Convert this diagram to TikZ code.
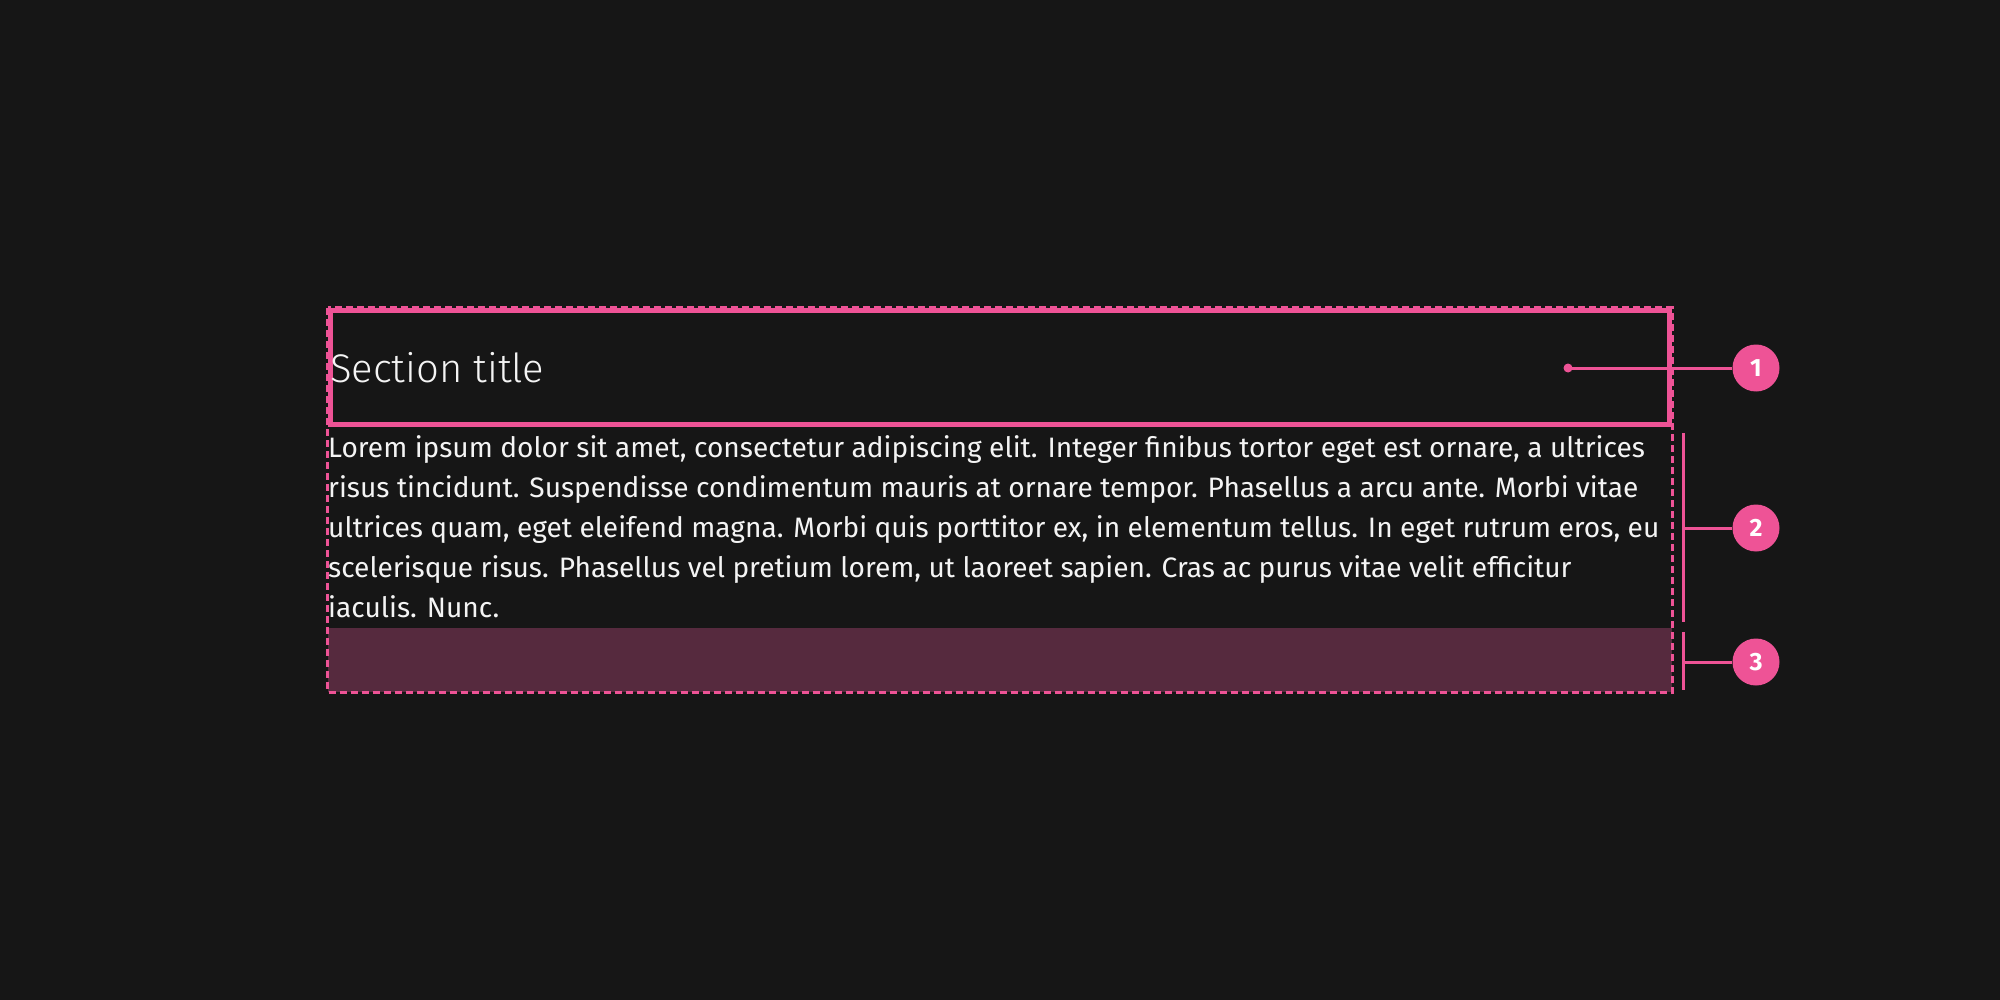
\documentclass[tikz,border=0pt]{standalone}
\usepackage{fontspec}
\setmainfont{Fira Sans}
\newfontfamily\titlefont{Fira Sans Light}
\definecolor{bgc}{HTML}{161616}
\definecolor{pinkc}{HTML}{EE5396}
\definecolor{purpc}{HTML}{562A3E}
\definecolor{textc}{HTML}{F4F4F4}
\tikzset{
  callout/.style={circle, fill=pinkc, text=white, minimum size=47pt, inner sep=0pt, font=\fontsize{25}{25}\selectfont\bfseries},
  leader/.style={draw=pinkc, line width=3pt},
  bodytext/.style={anchor=base west, inner sep=0pt, text=textc, font=\fontsize{28.1}{40}\selectfont},
}
\begin{document}
\begin{tikzpicture}[x=1pt,y=-1pt]
\fill[bgc] (0,0) rectangle (2000,1000);
\useasboundingbox (0,0) rectangle (2000,1000);
% spacer area
\fill[purpc] (328,628) rectangle (1672,692);
% title box
\draw[pinkc, line width=5.5pt] (330.5,310.5) rectangle (1669.5,424.5);
% outer dashed box
\draw[pinkc, line width=3pt, dash pattern=on 7pt off 4pt] (327.5,308) rectangle (1672,692);
% title
\node[anchor=base west, inner sep=0pt, text=textc, font=\titlefont\fontsize{40}{40}\selectfont] (title) at (330,382) {Section title};
% body
\node[bodytext] (body1) at (328,457) {Lorem ipsum dolor sit amet, consectetur adipiscing elit. Integer finibus tortor eget est ornare, a ultrices};
\node[bodytext] (body2) at (328,497) {risus tincidunt. Suspendisse condimentum mauris at ornare tempor. Phasellus a arcu ante. Morbi vitae};
\node[bodytext] (body3) at (328,537) {ultrices quam, eget eleifend magna. Morbi quis porttitor ex, in elementum tellus. In eget rutrum eros, eu};
\node[bodytext] (body4) at (328,577) {scelerisque risus. Phasellus vel pretium lorem, ut laoreet sapien. Cras ac purus vitae velit efficitur};
\node[bodytext] (body5) at (328,617) {iaculis. Nunc.};
% callouts
\node[callout] (c1) at (1756,368) {1};
\node[callout] (c2) at (1756,528) {2};
\node[callout] (c3) at (1756,662) {3};
\coordinate (d1) at (1568,368);
\fill[pinkc] (d1) circle (4.5pt);
\draw[leader] (d1) -- (c1.west);
% bracket 2
\coordinate (b2t) at (1683,433);
\coordinate (b2b) at (1683,622);
\coordinate (b2m) at (1683,528);
\draw[leader] (b2t) -- (b2b);
\draw[leader] (b2m) -- (c2.west);
% bracket 3
\coordinate (b3t) at (1683,632);
\coordinate (b3b) at (1683,690);
\coordinate (b3m) at (1683,662);
\draw[leader] (b3t) -- (b3b);
\draw[leader] (b3m) -- (c3.west);
\end{tikzpicture}
\end{document}
